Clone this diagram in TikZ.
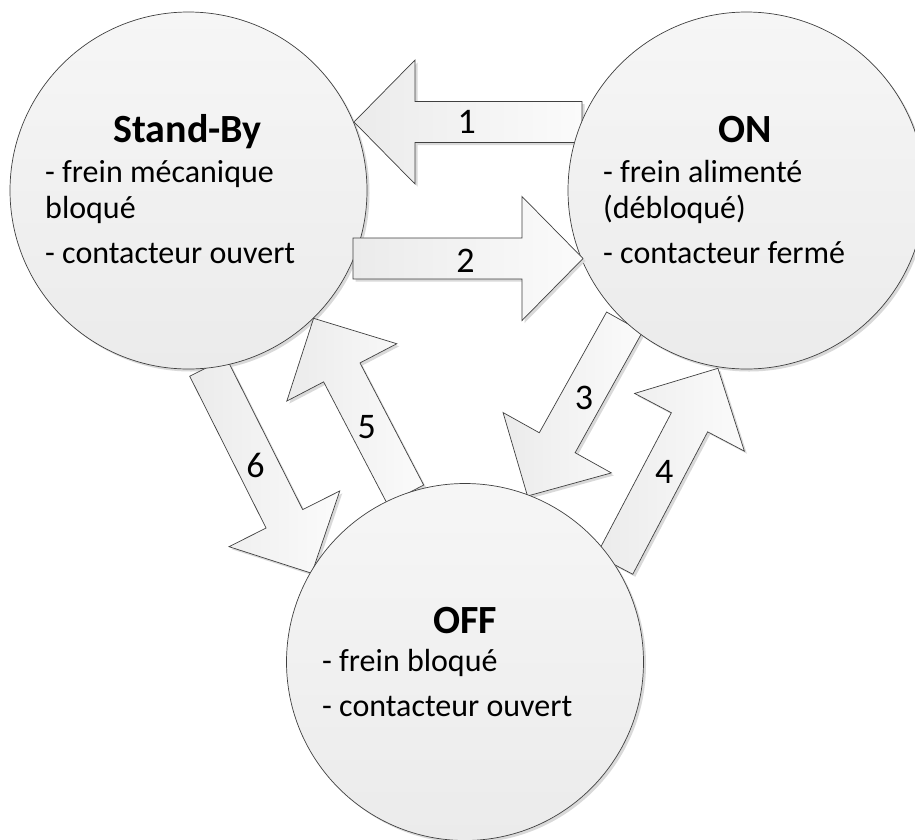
\documentclass[tikz,border=0pt]{standalone}
\usepackage{fontspec}
\setmainfont{Carlito}
\usetikzlibrary{calc}
\definecolor{linegray}{HTML}{404040}
\definecolor{circtop}{HTML}{F6F6F6}
\definecolor{circbot}{HTML}{EBEBEB}
\definecolor{arrA}{HTML}{EBEBEB}
\definecolor{arrB}{HTML}{FBFBFB}
\definecolor{shadowgray}{HTML}{D9D9D9}
\tikzset{
  statecirc/.style={circle, draw=linegray, line width=0.7pt, minimum size=357pt, inner sep=0pt, top color=circtop, bottom color=circbot},
  circshadow/.style={circle, fill=shadowgray, minimum size=357pt, inner sep=0pt},
  arrowbody/.style={draw=linegray, line width=0.7pt, line join=miter, left color=arrA, right color=arrB},
  arrowshadow/.style={fill=shadowgray, transform canvas={shift={(2.5pt,-2.5pt)}}},
  titletext/.style={anchor=base, inner sep=0pt, font=\fontsize{40}{46}\selectfont\bfseries},
  bodytext/.style={anchor=base west, inner sep=0pt, font=\fontsize{32}{38}\selectfont},
  numtext/.style={anchor=center, inner sep=0pt, font=\fontsize{36}{42}\selectfont}
}
% #1 tail coordinate, #2 tip coordinate, #3 style
\newcommand\blockarrowpath[3]{%
  \path[#3] ($(#1)!20.5pt!90:(#2)$) -- ($(#2neck)!20.5pt!90:(#2)$) -- ($(#2neck)!62pt!90:(#2)$) -- (#2)
    -- ($(#2neck)!62pt!-90:(#2)$) -- ($(#2neck)!20.5pt!-90:(#2)$) -- ($(#1)!20.5pt!-90:(#2)$) -- cycle;}
\newcommand\blockarrow[2]{%
  \coordinate (#2neck) at ($(#2)!61pt!(#1)$);
  \blockarrowpath{#1}{#2}{arrowshadow}
  \blockarrowpath{#1}{#2}{arrowbody}}
\begin{document}
\begin{tikzpicture}[x=1pt,y=-1pt]
\useasboundingbox (0,0) rectangle (915,839);
\clip (0,0) rectangle (915,839);
\fill[white] (0,0) rectangle (915,839);

% circle shadows
\node[circshadow] (sbs) at (191,193) {};
\node[circshadow] (ons) at (749,193) {};
\node[circshadow] (offs) at (467.5,664.5) {};

% arrow end points
\coordinate (a1tail) at (582,122);   \coordinate (a1tip) at (354,122);
\coordinate (a2tail) at (353,258.5); \coordinate (a2tip) at (583,258.5);
\coordinate (a3tail) at (624.5,322); \coordinate (a3tip) at (527.5,496);
\coordinate (a4tail) at (614.6,564.7); \coordinate (a4tip) at (717.9,368.3);
\coordinate (a5tail) at (405.5,494.5); \coordinate (a5tip) at (313.6,318.3);
\coordinate (a6tail) at (208,367);   \coordinate (a6tip) at (311.8,573.3);

\blockarrow{a1tail}{a1tip}
\blockarrow{a3tail}{a3tip}
\blockarrow{a4tail}{a4tip}
\blockarrow{a5tail}{a5tip}
\blockarrow{a6tail}{a6tip}

% states
\node[statecirc] (sb) at (188.5,190.5) {};
\node[statecirc] (on) at (746.5,190.5) {};
\node[statecirc] (off) at (465,662) {};

\blockarrow{a2tail}{a2tip}

% texts
\node[titletext] (sbt) at (187.5,142) {Stand-By};
\node[bodytext] (sb1) at (45,182) {- frein mécanique};
\node[bodytext] (sb2) at (45,218) {bloqué};
\node[bodytext] (sb3) at (45,263) {- contacteur ouvert};

\node[titletext] (ont) at (745,142) {ON};
\node[bodytext] (on1) at (603,182) {- frein alimenté};
\node[bodytext] (on2) at (603,218) {(débloqué)};
\node[bodytext] (on3) at (603,263) {- contacteur fermé};

\node[titletext] (offt) at (465,633.3) {OFF};
\node[bodytext] (off1) at (322,671.7) {- frein bloqué};
\node[bodytext] (off2) at (322,716.7) {- contacteur ouvert};

% numbers
\node[numtext] (n1) at (466.7,121.7) {1};
\node[numtext] (n2) at (465.5,261) {2};
\node[numtext] (n3) at (583.9,398.3) {3};
\node[numtext] (n4) at (664.3,471.7) {4};
\node[numtext] (n5) at (366.8,426.7) {5};
\node[numtext] (n6) at (255.4,465) {6};
\end{tikzpicture}
\end{document}
